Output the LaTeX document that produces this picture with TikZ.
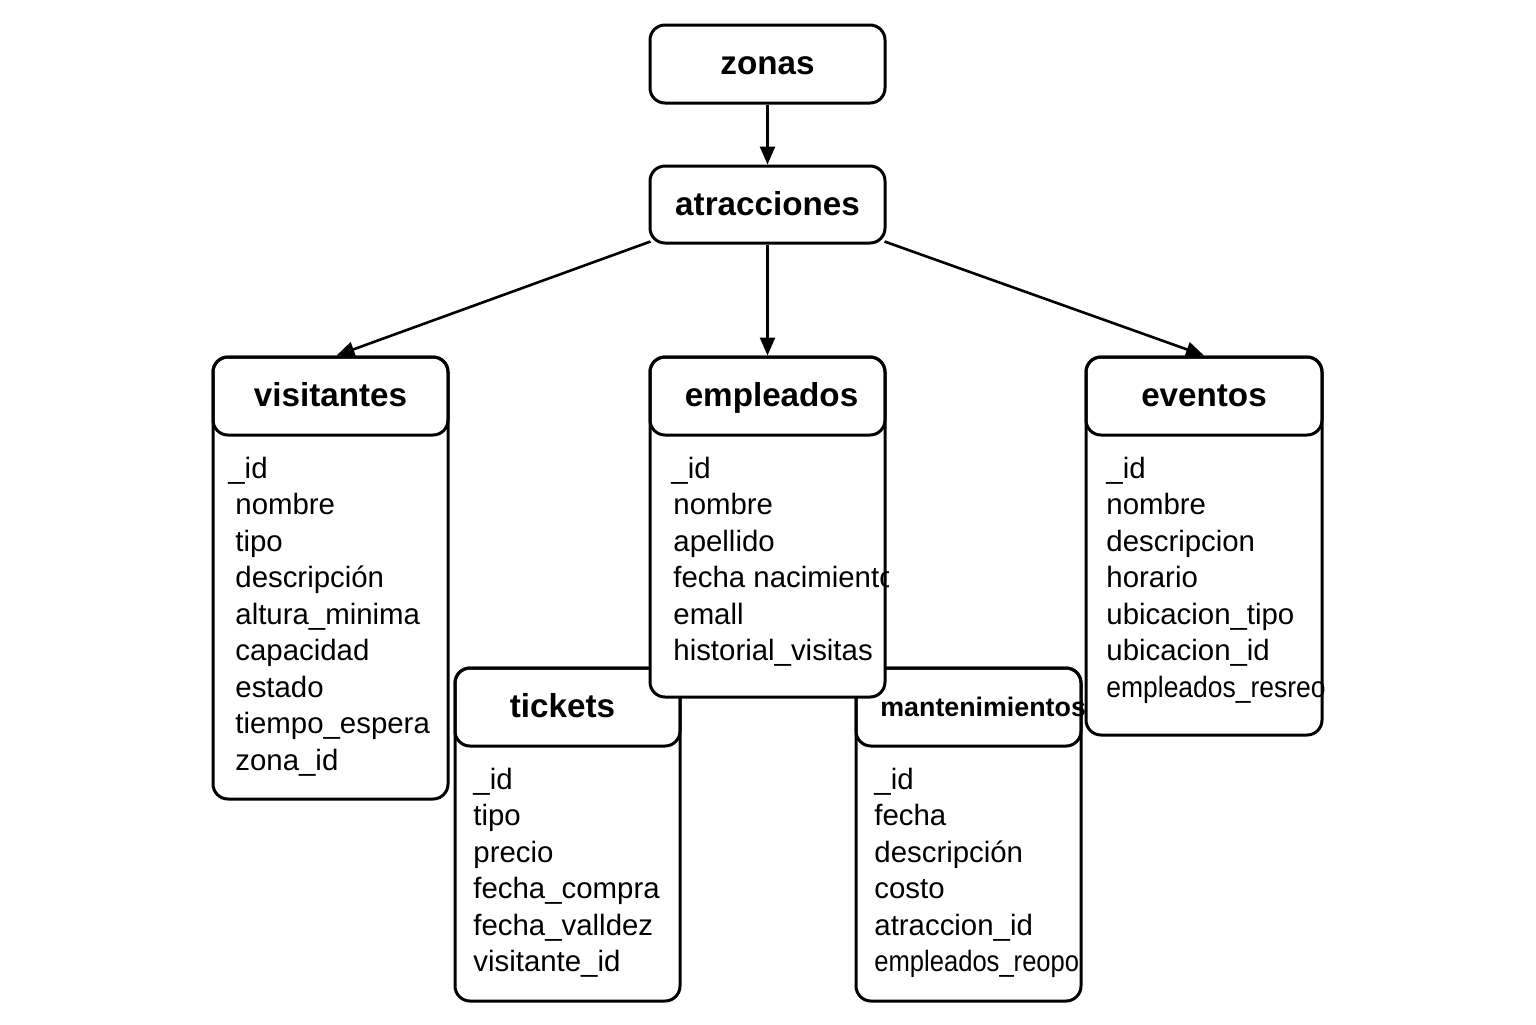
\documentclass[tikz,border=0pt]{standalone}
\usepackage{fontspec}
\setmainfont{Liberation Sans}
\usetikzlibrary{arrows.meta}
\tikzset{
  box/.style={draw, line width=1.5pt, rounded corners=7.5pt, fill=white, inner sep=0pt},
  hdr/.style={draw, line width=1.5pt, rounded corners=7.5pt, inner sep=0pt,
    text height=10.5pt, text depth=0pt, font=\fontsize{16.6}{20}\selectfont\bfseries},
  fld/.style={anchor=base west, inner sep=0pt, font=\fontsize{14.7}{17}\selectfont},
  arr/.style={line width=1.3pt, -{Triangle[length=9pt,width=7.5pt]}},
}
\begin{document}
\begin{tikzpicture}[x=0.5pt,y=-0.5pt]
\useasboundingbox (0,0) rectangle (1536,1024);

% visitantes
\node[box, minimum width=117.5pt, minimum height=221pt] (v) at (330.5,578) {};
\begin{scope}
  \clip ([shift={(-1pt,-1pt)}]v.south west) rectangle ([shift={(1pt,1pt)}]v.north east);
  \node[hdr, minimum width=117.5pt, minimum height=39pt, anchor=north] (vh) at (v.north) {visitantes};
  \foreach \t [count=\i] in {\hspace*{-3.5pt}\_id, nombre, tipo, descripción, altura\_minima, capacidad, estado, tiempo\_espera, zona\_id}
    \node[fld] (v\i) at (235, 441.5+36.5*\i) {\t};
\end{scope}

% eventos
\node[box, minimum width=118pt, minimum height=189pt] (ev) at (1204,546) {};
\begin{scope}
  \clip ([shift={(-1pt,-1pt)}]ev.south west) rectangle ([shift={(1pt,1pt)}]ev.north east);
  \node[hdr, minimum width=118pt, minimum height=39pt, anchor=north] (evh) at (ev.north) {eventos};
  \foreach \t [count=\i] in {\_id, nombre, descripcion, horario, ubicacion\_tipo, ubicacion\_id, \scalebox{0.9}[1]{empleados\_resreo}}
    \node[fld] (ev\i) at (1106, 441.5+36.5*\i) {\t};
\end{scope}

% tickets
\node[box, minimum width=112.5pt, minimum height=166.5pt] (t) at (567.5,834.5) {};
\begin{scope}
  \clip ([shift={(-1pt,-1pt)}]t.south west) rectangle ([shift={(1pt,1pt)}]t.north east);
  \node[hdr, minimum width=112.5pt, minimum height=39pt, anchor=north] (th) at (t.north) {\hspace*{-5pt}tickets};
  \foreach \t [count=\i] in {\_id, tipo, precio, fecha\_compra, fecha\_valldez, visitante\_id}
    \node[fld] (t\i) at (473, 752.5+36.5*\i) {\t};
\end{scope}

% mantenimientos
\node[box, minimum width=112.5pt, minimum height=166.5pt] (m) at (968.5,834.5) {};
\begin{scope}
  \clip ([shift={(-1pt,-1pt)}]m.south west) rectangle ([shift={(1pt,1pt)}]m.north east);
  \node[hdr, minimum width=112.5pt, minimum height=39pt, anchor=north] (mh) at (m.north) {};
  \node[anchor=base west, inner sep=0pt, font=\fontsize{13.4}{16}\selectfont\bfseries] (mt) at (880,716) {mantenimientos};
  \foreach \t [count=\i] in {\_id, fecha, descripción, costo, atraccion\_id, \scalebox{0.87}[1]{empleados\_reopo}}
    \node[fld] (m\i) at (874, 752.5+36.5*\i) {\t};
\end{scope}

% empleados (on top)
\node[box, minimum width=117.5pt, minimum height=170pt] (e) at (767.5,527) {};
\begin{scope}
  \clip ([shift={(-1pt,-1pt)}]e.south west) rectangle ([shift={(1pt,1pt)}]e.north east);
  \node[hdr, minimum width=117.5pt, minimum height=39pt, anchor=north] (eh) at (e.north) {\hspace*{4pt}empleados};
  \foreach \t [count=\i] in {\hspace*{-1pt}\_id, nombre, apellido, fecha nacimiento, emall, historial\_visitas}
    \node[fld] (e\i) at (673, 441.5+36.5*\i) {\t};
\end{scope}

% zonas, atracciones
\node[hdr, fill=white, minimum width=117.5pt, minimum height=39pt] (z) at (767.5,64) {zonas};
\node[hdr, fill=white, minimum width=117.5pt, minimum height=38.5pt] (a) at (767.5,204.5) {atracciones};

% connectors
\draw[arr] (z.south) -- (a.north);
\draw[arr] (a.south) -- (eh.north);
\draw[arr] ([shift={(1pt,1.5pt)}]a.south west) -- ([xshift=3pt]vh.north);
\draw[arr] ([shift={(-1pt,1.5pt)}]a.south east) -- (evh.north);
\end{tikzpicture}
\end{document}
